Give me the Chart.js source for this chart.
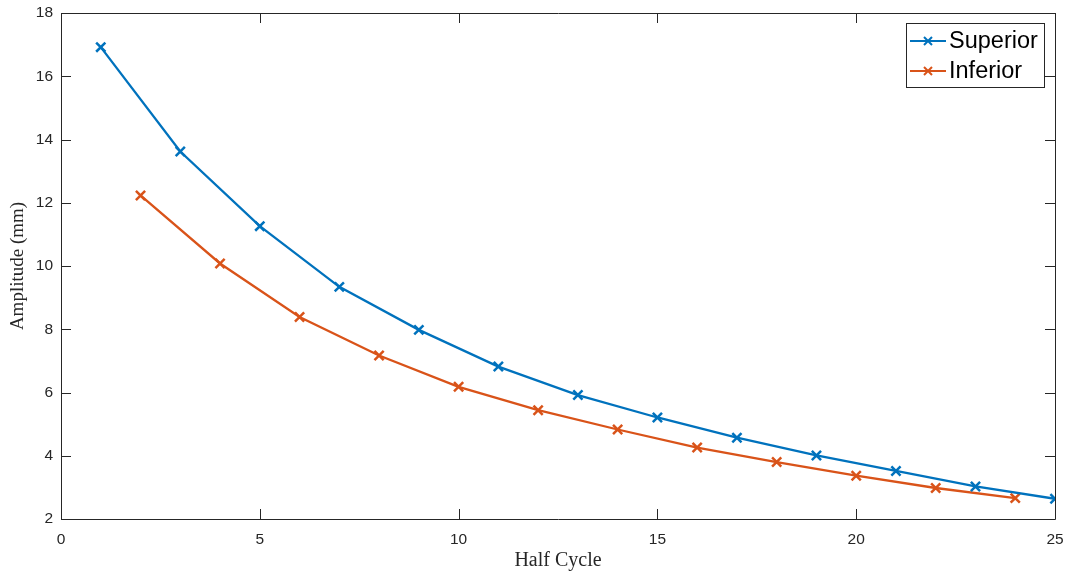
<!DOCTYPE html>
<html>
<head>
<meta charset="utf-8">
<script src="https://cdn.jsdelivr.net/npm/chart.js@4.4.1/dist/chart.umd.min.js"></script>
<style>
  html, body { margin: 0; padding: 0; background: #fff; }
  #wrap { width: 1068px; height: 573px; }
</style>
</head>
<body>
<div id="wrap"><canvas id="c" width="1068" height="573"></canvas></div>
<script>
// Half-cycle amplitudes of the two oscillation peaks
const superiorCycles = [1, 3, 5, 7, 9, 11, 13, 15, 17, 19, 21, 23, 25];
const superiorAmp = [16.92, 13.62, 11.26, 9.34, 7.98, 6.82, 5.92, 5.21, 4.57, 4.01, 3.52, 3.03, 2.64];
const inferiorCycles = [2, 4, 6, 8, 10, 12, 14, 16, 18, 20, 22, 24];
const inferiorAmp = [12.23, 10.08, 8.39, 7.17, 6.18, 5.44, 4.83, 4.26, 3.80, 3.37, 2.98, 2.66];
const xTicks = [0, 5, 10, 15, 20, 25];
const yTicks = [2, 4, 6, 8, 10, 12, 14, 16, 18];

const AXIS = '#262626';
const pts = (xs, ys) => xs.map((x, i) => ({ x: x, y: ys[i] }));

// Box around the axes with inward ticks on all four sides, plus the legend
const boxPlugin = {
  id: 'box',
  afterDraw(chart) {
    const { ctx, chartArea: a, scales } = chart;
    const len = 10;
    ctx.save();
    ctx.strokeStyle = AXIS;
    ctx.lineWidth = 1;
    ctx.beginPath();
    ctx.rect(Math.round(a.left) + 0.5, Math.round(a.top) + 0.5,
             Math.round(a.right - a.left), Math.round(a.bottom - a.top));
    scales.x.ticks.forEach(t => {
      const px = Math.round(scales.x.getPixelForValue(t.value)) + 0.5;
      ctx.moveTo(px, a.bottom); ctx.lineTo(px, a.bottom - len);
      ctx.moveTo(px, a.top); ctx.lineTo(px, a.top + len);
    });
    scales.y.ticks.forEach(t => {
      const py = Math.round(scales.y.getPixelForValue(t.value)) + 0.5;
      ctx.moveTo(a.left, py); ctx.lineTo(a.left + len, py);
      ctx.moveTo(a.right, py); ctx.lineTo(a.right - len, py);
    });
    ctx.stroke();

    // legend
    const lx = 906.5, ly = 23.5, lw = 138, lh = 64;
    ctx.fillStyle = '#fff';
    ctx.fillRect(lx, ly, lw, lh);
    ctx.strokeStyle = AXIS;
    ctx.strokeRect(lx, ly, lw, lh);
    ctx.font = '23.5px "Liberation Sans", Arial, sans-serif';
    ctx.textBaseline = 'middle';
    ctx.textAlign = 'left';
    chart.data.datasets.forEach((ds, i) => {
      const y = 41 + i * 30;
      ctx.strokeStyle = ds.borderColor;
      ctx.lineWidth = 2;
      ctx.beginPath();
      ctx.moveTo(910, y); ctx.lineTo(946, y);
      const r = 4;
      ctx.moveTo(928 - r, y - r); ctx.lineTo(928 + r, y + r);
      ctx.moveTo(928 - r, y + r); ctx.lineTo(928 + r, y - r);
      ctx.stroke();
      ctx.fillStyle = '#000';
      ctx.fillText(ds.label, 949, y + 1);
    });
    ctx.restore();
  }
};

new Chart(document.getElementById('c'), {
  type: 'line',
  data: {
    datasets: [
      {
        label: 'Superior',
        data: pts(superiorCycles, superiorAmp),
        borderColor: '#0072BD',
        backgroundColor: '#0072BD',
        borderWidth: 2.3,
        pointStyle: 'crossRot',
        pointRadius: 6.5,
        pointBorderWidth: 2.5,
        tension: 0
      },
      {
        label: 'Inferior',
        data: pts(inferiorCycles, inferiorAmp),
        borderColor: '#D95319',
        backgroundColor: '#D95319',
        borderWidth: 2.3,
        pointStyle: 'crossRot',
        pointRadius: 6.5,
        pointBorderWidth: 2.5,
        tension: 0
      }
    ]
  },
  options: {
    responsive: false,
    animation: false,
    events: [],
    layout: { padding: { top: 13, right: 13, left: 0, bottom: 0 } },
    plugins: { legend: { display: false }, tooltip: { enabled: false } },
    scales: {
      x: {
        type: 'linear',
        min: 0, max: 25,
        afterBuildTicks: s => { s.ticks = xTicks.map(v => ({ value: v })); },
        afterFit: s => { s.height = 54; s.paddingLeft = 0; s.paddingRight = 0; },
        grid: { display: false, drawTicks: false },
        border: { display: false },
        ticks: {
          padding: 11,
          maxRotation: 0,
          autoSkip: false,
          color: AXIS,
          font: { family: '"Liberation Sans", Arial, sans-serif', size: 15.5 }
        },
        title: {
          display: true,
          text: 'Half Cycle',
          color: AXIS,
          padding: { top: 0, bottom: 0 },
          font: { family: '"Liberation Serif", "Times New Roman", serif', size: 20 }
        }
      },
      y: {
        type: 'linear',
        min: 2, max: 18,
        afterBuildTicks: s => { s.ticks = yTicks.map(v => ({ value: v })); },
        afterFit: s => { s.width = 61; s.paddingTop = 0; s.paddingBottom = 0; },
        grid: { display: false, drawTicks: false },
        border: { display: false },
        ticks: {
          padding: 8,
          autoSkip: false,
          color: AXIS,
          font: { family: '"Liberation Sans", Arial, sans-serif', size: 15.5 }
        },
        title: {
          display: true,
          text: 'Amplitude (mm)',
          color: AXIS,
          padding: { top: 7, bottom: 0 },
          font: { family: '"Liberation Serif", "Times New Roman", serif', size: 19 }
        }
      }
    }
  },
  plugins: [boxPlugin]
});
</script>
</body>
</html>
